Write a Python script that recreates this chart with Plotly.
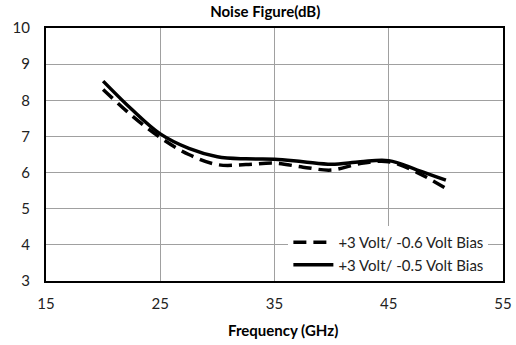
import plotly.graph_objects as go

freq = [20, 22.5, 25, 27.5, 30, 32.5, 35, 37.5, 40, 42.5, 45, 47.5, 50]
nf_06 = [8.30, 7.58, 6.97, 6.50, 6.22, 6.22, 6.26, 6.15, 6.07, 6.25, 6.30, 6.00, 5.56]
nf_05 = [8.53, 7.75, 7.07, 6.67, 6.44, 6.38, 6.37, 6.30, 6.23, 6.30, 6.33, 6.07, 5.79]

title_text = "Noise Figure(dB)"
x_title = "Frequency (GHz)"
series_names = ["+3 Volt/ -0.6 Volt Bias", "+3 Volt/ -0.5 Volt Bias"]

FONT = "Lato, 'Open Sans', sans-serif"

fig = go.Figure()
fig.add_trace(go.Scatter(x=freq, y=nf_06, mode="lines", name=series_names[0],
                         line=dict(color="black", width=3.5, dash="13px,7px", shape="spline", smoothing=1.0)))
fig.add_trace(go.Scatter(x=freq, y=nf_05, mode="lines", name=series_names[1],
                         line=dict(color="black", width=3.5, shape="spline", smoothing=1.0)))

fig.update_layout(
    width=516, height=345,
    margin=dict(l=46, r=13, t=28, b=64),
    paper_bgcolor="white", plot_bgcolor="white",
    font=dict(family=FONT, size=15, color="#222222"),
    title=dict(text="<b>" + title_text + "</b>", x=0.514, xanchor="center", y=0.965, yanchor="middle",
               font=dict(family=FONT, size=15, color="black")),
    showlegend=True,
    legend=dict(x=0.968, xanchor="right", y=0.0, yanchor="bottom", bgcolor="white",
                font=dict(family=FONT, size=15, color="#222222"), tracegroupgap=0,
                itemwidth=40),
    annotations=[dict(text="<b>" + x_title + "</b>", xref="paper", yref="paper", x=0.519, y=-0.194,
                      xanchor="center", yanchor="middle", showarrow=False,
                      font=dict(family=FONT, size=15, color="black"))],
)
fig.update_xaxes(range=[15, 55], tickvals=[15, 25, 35, 45, 55], showgrid=True, gridcolor="#a0a0a0", gridwidth=1,
                 showline=True, mirror=True, linecolor="black", linewidth=2, zeroline=False, automargin=False,
                 ticks="outside", ticklen=8, tickcolor="rgba(0,0,0,0)", tickfont=dict(size=15))
fig.update_yaxes(range=[3, 10], tickvals=[3, 4, 5, 6, 7, 8, 9, 10], showgrid=True, gridcolor="#a0a0a0", gridwidth=1,
                 showline=True, mirror=True, linecolor="black", linewidth=2, zeroline=False, automargin=False,
                 ticks="outside", ticklen=11, tickcolor="rgba(0,0,0,0)", tickfont=dict(size=15))

fig.write_html("out.html", config={"displayModeBar": False},
               post_script="document.body.style.margin='0px';document.body.style.padding='0px';")
